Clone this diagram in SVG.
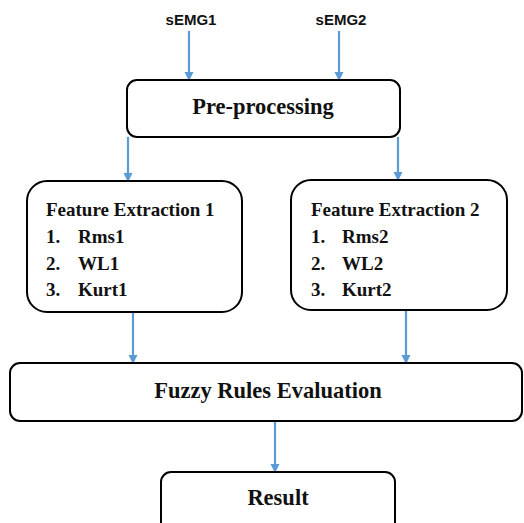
<svg xmlns="http://www.w3.org/2000/svg" width="524" height="523" viewBox="0 0 524 523">
<style>
.box{fill:#fff;stroke:#000;stroke-width:2}
.t{font-family:"Liberation Serif",serif;font-weight:bold;fill:#111}
.f{font-size:19px}
.b{font-size:22.5px}
.s{font-family:"Liberation Sans",sans-serif;font-weight:bold;fill:#111;font-size:15px}
.c{stroke:#5B9BD5;stroke-width:2.2;fill:none;marker-end:url(#ah)}
</style>
<defs>
<marker id="ah" markerWidth="10" markerHeight="10" refX="8" refY="5" orient="auto" markerUnits="userSpaceOnUse">
<path d="M0,0.5 L9,5 L0,9.5 Z" fill="#5B9BD5"/>
</marker>
</defs>
<rect width="524" height="523" fill="#fff"/>
<g id="connectors">
<line class="c" x1="189" y1="31" x2="189" y2="80"/>
<line class="c" x1="339" y1="31" x2="339" y2="80"/>
<line class="c" x1="128" y1="137" x2="128" y2="181"/>
<line class="c" x1="398" y1="137" x2="398" y2="180"/>
<line class="c" x1="133" y1="312" x2="133" y2="363"/>
<line class="c" x1="406" y1="310" x2="406" y2="363"/>
<line class="c" x1="275" y1="421" x2="275" y2="472"/>
</g>
<g id="semg1"><text class="s" x="191" y="25" text-anchor="middle">sEMG1</text></g>
<g id="semg2"><text class="s" x="341" y="25" text-anchor="middle">sEMG2</text></g>
<g id="preprocessing">
<rect class="box" x="127" y="80" width="273" height="57" rx="10"/>
<text class="t b" x="263" y="114" text-anchor="middle">Pre-processing</text>
</g>
<g id="fe1">
<rect class="box" x="27" y="181" width="215" height="131" rx="20"/>
<text class="t f" x="46" y="216">Feature Extraction 1</text>
<text class="t f" x="46" y="243">1.</text><text class="t f" x="78" y="243">Rms1</text>
<text class="t f" x="46" y="270">2.</text><text class="t f" x="78" y="270">WL1</text>
<text class="t f" x="46" y="296">3.</text><text class="t f" x="78" y="296">Kurt1</text>
</g>
<g id="fe2">
<rect class="box" x="291" y="180" width="216" height="130" rx="20"/>
<text class="t f" x="311" y="216">Feature Extraction 2</text>
<text class="t f" x="311" y="243">1.</text><text class="t f" x="342" y="243">Rms2</text>
<text class="t f" x="311" y="270">2.</text><text class="t f" x="342" y="270">WL2</text>
<text class="t f" x="311" y="296">3.</text><text class="t f" x="342" y="296">Kurt2</text>
</g>
<g id="fuzzy">
<rect class="box" x="10" y="363" width="512" height="58" rx="10"/>
<text class="t b" x="268" y="398" text-anchor="middle">Fuzzy Rules Evaluation</text>
</g>
<g id="result">
<rect class="box" x="161" y="472" width="234" height="60" rx="10"/>
<text class="t b" x="278" y="505" text-anchor="middle">Result</text>
</g>
</svg>
